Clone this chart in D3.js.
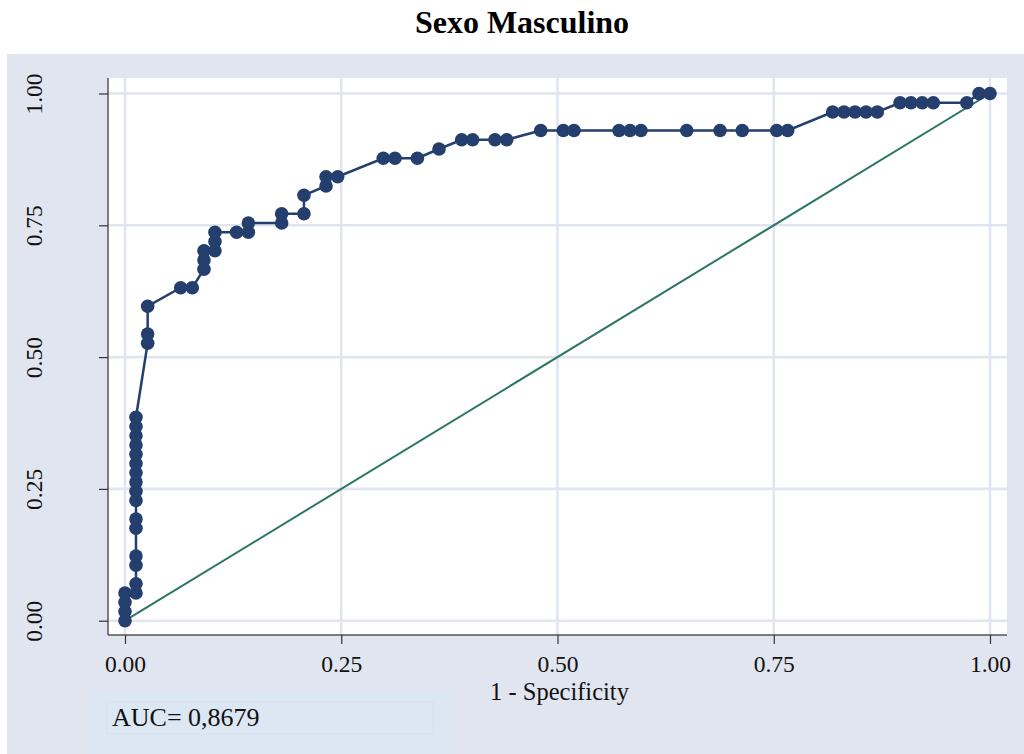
<!DOCTYPE html>
<html>
<head>
<meta charset="utf-8">
<script src="https://cdn.jsdelivr.net/npm/d3@7"></script>
<style>
  body { margin: 0; background: #fff; }
  svg { display: block; font-family: "Liberation Serif", "Times New Roman", serif; }
</style>
</head>
<body>
<div id="chart"></div>
<script>
// ROC points (1 - specificity, sensitivity)
const fpr = [
  0, 0, 0, 0,
  0.0127, 0.0127, 0.0127, 0.0127, 0.0127, 0.0127, 0.0127, 0.0127, 0.0127, 0.0127,
  0.0127, 0.0127, 0.0127, 0.0127, 0.0127, 0.0127,
  0.0262, 0.0262, 0.0262,
  0.0644, 0.0778,
  0.0913, 0.0913, 0.0913,
  0.104, 0.104, 0.104,
  0.129,
  0.1426, 0.1426,
  0.1811, 0.1811,
  0.2069, 0.2069,
  0.2324, 0.2324,
  0.2459,
  0.2986, 0.3121, 0.338,
  0.363,
  0.3892, 0.4019, 0.4277, 0.4413,
  0.4806, 0.5067, 0.5191, 0.5711, 0.5838, 0.5965, 0.6494, 0.6879, 0.7136, 0.7534, 0.7661,
  0.8181, 0.8312, 0.8439, 0.8567, 0.8697,
  0.896, 0.9087, 0.9217, 0.9345, 0.9731,
  0.9873, 1
];
const tpr = [
  0, 0.0175, 0.035, 0.0526,
  0.0526, 0.0702, 0.1053, 0.1228, 0.1754, 0.193, 0.2281, 0.2456, 0.2632, 0.2807,
  0.2982, 0.3158, 0.3333, 0.3509, 0.3684, 0.386,
  0.5263, 0.5439, 0.5965,
  0.6316, 0.6316,
  0.6667, 0.6842, 0.7018,
  0.7018, 0.7193, 0.7368,
  0.7368,
  0.7368, 0.7544,
  0.7544, 0.7719,
  0.7719, 0.807,
  0.8246, 0.8421,
  0.8421,
  0.8772, 0.8772, 0.8772,
  0.8947,
  0.9123, 0.9123, 0.9123, 0.9123,
  0.9298, 0.9298, 0.9298, 0.9298, 0.9298, 0.9298, 0.9298, 0.9298, 0.9298, 0.9298, 0.9298,
  0.9649, 0.9649, 0.9649, 0.9649, 0.9649,
  0.9825, 0.9825, 0.9825, 0.9825, 0.9825,
  1, 1
];
const tickValues = [0, 0.25, 0.5, 0.75, 1];
const tickLabels = ['0.00', '0.25', '0.50', '0.75', '1.00'];
const chartTitle = 'Sexo Masculino';
const xTitle = '1 - Specificity';
const aucText = 'AUC= 0,8679';

const width = 1024;
const height = 754;

const navy = '#243f6d';
const green = '#2b7664';
const gridColor = '#e1e5f0';
const bgColor = '#e1e5ef';

const svg = d3.select('#chart')
  .append('svg')
  .attr('width', width)
  .attr('height', height);

// outer graph region
svg.append('rect')
  .attr('x', 7).attr('y', 54)
  .attr('width', width - 7).attr('height', height - 54)
  .attr('fill', bgColor);

// plot region
const plot = {left: 108, top: 78, right: 1007, bottom: 635};
svg.append('rect')
  .attr('x', plot.left).attr('y', plot.top)
  .attr('width', plot.right - plot.left).attr('height', plot.bottom - plot.top)
  .attr('fill', '#fff');

const x = d3.scaleLinear().domain([0, 1]).range([125, 990]);
const y = d3.scaleLinear().domain([0, 1]).range([620.7, 93.5]);

// grid
const grid = svg.append('g');
grid.selectAll('.gx').data(tickValues).enter().append('line')
  .attr('x1', d => x(d)).attr('x2', d => x(d))
  .attr('y1', plot.top).attr('y2', plot.bottom)
  .attr('stroke', gridColor).attr('stroke-width', 2.6);
grid.selectAll('.gy').data(tickValues).enter().append('line')
  .attr('y1', d => y(d)).attr('y2', d => y(d))
  .attr('x1', plot.left).attr('x2', plot.right)
  .attr('stroke', gridColor).attr('stroke-width', 2.6);

// axes
const fmt = (d, i) => tickLabels[i];
const xAxis = svg.append('g')
  .attr('transform', `translate(0,${plot.bottom})`)
  .call(d3.axisBottom(x).tickValues(tickValues).tickFormat(fmt).tickSize(9).tickPadding(11));
xAxis.select('.domain').attr('d', `M${plot.left},0H${plot.right}`);
const yAxis = svg.append('g')
  .attr('transform', `translate(${plot.left},0)`)
  .call(d3.axisLeft(y).tickValues(tickValues).tickFormat(fmt).tickSize(9).tickPadding(0));
yAxis.select('.domain').attr('d', `M0,${plot.top}V${plot.bottom}`);

[xAxis, yAxis].forEach(a => {
  a.select('.domain').attr('stroke', '#555').attr('stroke-width', 1.5);
  a.selectAll('.tick line').attr('stroke', '#333').attr('stroke-width', 1.2);
  a.selectAll('.tick text')
    .attr('font-family', '"Liberation Serif", serif')
    .attr('font-size', 23.5)
    .attr('fill', '#111');
});
// rotate y tick labels like the original
yAxis.selectAll('.tick text')
  .attr('x', null).attr('dy', null).attr('dx', null)
  .attr('text-anchor', 'middle')
  .attr('transform', `translate(${42 - plot.left},0) rotate(-90)`);

// reference line
svg.append('line')
  .attr('x1', x(0)).attr('y1', y(0))
  .attr('x2', x(1)).attr('y2', y(1))
  .attr('stroke', green).attr('stroke-width', 2);

// ROC curve
const pts = fpr.map((f, i) => ({f, t: tpr[i]}));
const line = d3.line().x(d => x(d.f)).y(d => y(d.t));
svg.append('path')
  .datum(pts)
  .attr('d', line)
  .attr('fill', 'none')
  .attr('stroke', navy)
  .attr('stroke-width', 2.5);
svg.append('g').selectAll('circle').data(pts).enter().append('circle')
  .attr('cx', d => x(d.f)).attr('cy', d => y(d.t))
  .attr('r', 6.8)
  .attr('fill', navy);

// titles
svg.append('text')
  .attr('x', 522).attr('y', 33)
  .attr('text-anchor', 'middle')
  .attr('font-size', 32).attr('font-weight', 'bold')
  .attr('fill', '#000')
  .text(chartTitle);
svg.append('text')
  .attr('x', (x(0) + x(1)) / 2 + 2).attr('y', 700)
  .attr('text-anchor', 'middle')
  .attr('font-size', 24.5)
  .attr('fill', '#111')
  .text(xTitle);

// AUC note box
svg.append('rect')
  .attr('x', 90).attr('y', 691).attr('width', 360).attr('height', height - 691)
  .attr('fill', '#dce7f4');
svg.append('rect')
  .attr('x', 107).attr('y', 702).attr('width', 326).attr('height', 32)
  .attr('fill', 'none').attr('stroke', '#d6e1ee').attr('stroke-width', 1);
svg.append('text')
  .attr('x', 112).attr('y', 726)
  .attr('font-size', 26)
  .attr('fill', '#111')
  .text(aucText);
</script>
</body>
</html>
